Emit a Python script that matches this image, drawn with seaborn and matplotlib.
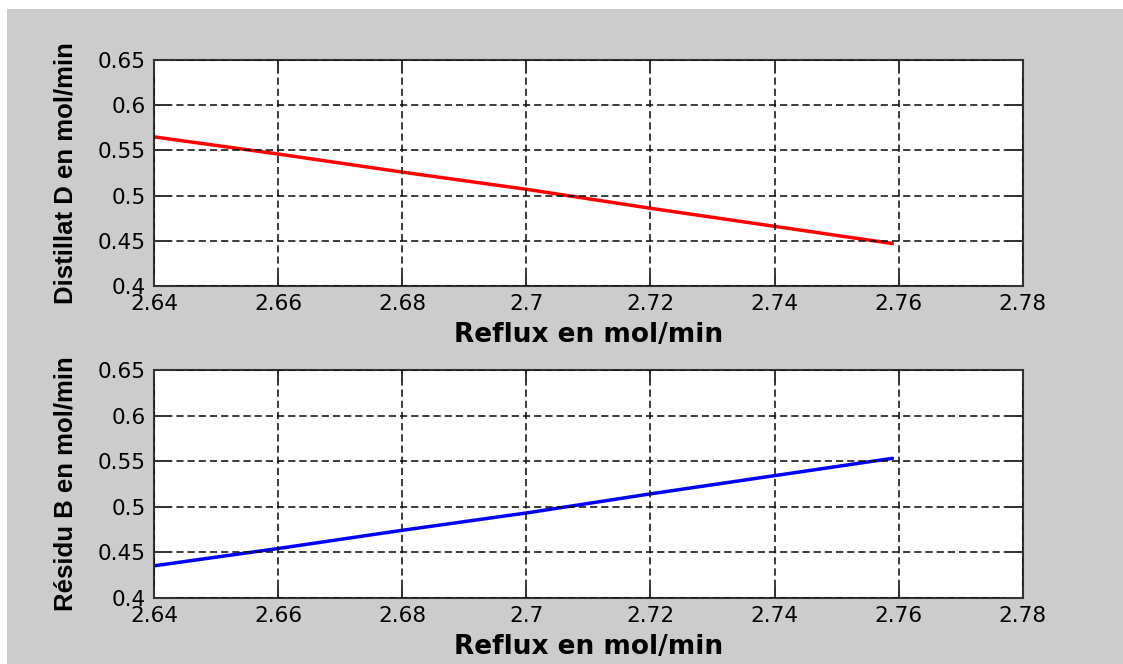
import matplotlib
matplotlib.use("Agg")
import matplotlib.pyplot as plt
from matplotlib import font_manager
from matplotlib.patches import Rectangle
import pandas as pd
import seaborn as sns

# Reflux flow (mol/min) and the resulting distillate / bottoms flows (mol/min)
reflux = [2.640, 2.660, 2.680, 2.700, 2.720, 2.740, 2.759]
distillat_D = [0.565, 0.546, 0.526, 0.507, 0.486, 0.466, 0.447]
residu_B = [0.435, 0.454, 0.474, 0.493, 0.514, 0.534, 0.553]

x_ticks = [2.64, 2.66, 2.68, 2.70, 2.72, 2.74, 2.76, 2.78]
x_tick_labels = ["2.64", "2.66", "2.68", "2.7", "2.72", "2.74", "2.76", "2.78"]
y_ticks = [0.40, 0.45, 0.50, 0.55, 0.60, 0.65]
y_tick_labels = ["0.4", "0.45", "0.5", "0.55", "0.6", "0.65"]

x_label = "Reflux en mol/min"
y_label_top = "Distillat D en mol/min"
y_label_bottom = "Résidu B en mol/min"

df = pd.DataFrame({"reflux": reflux, "D": distillat_D, "B": residu_B})

sns.set_theme(style="white")
plt.rcParams["font.family"] = ["DejaVu Sans"]

# narrow bold face for the vertical labels when available
try:
    font_manager.findfont(font_manager.FontProperties(family="Liberation Sans Narrow"),
                          fallback_to_default=False)
    ylab_family, ylab_size = "Liberation Sans Narrow", 22
except Exception:
    ylab_family, ylab_size = "Liberation Sans", 18.5

W, H = 1123, 664
fig = plt.figure(figsize=(W / 100, H / 100), dpi=100)
fig.patch.set_facecolor("white")
fig.patches.append(Rectangle((7 / W, 0), 1, (H - 9) / H, transform=fig.transFigure,
                             facecolor="#cccccc", edgecolor="none", zorder=-10))

ax_top = fig.add_axes([154 / W, (H - 286) / H, 868.7 / W, 226 / H])
ax_bot = fig.add_axes([154 / W, (H - 597.7) / H, 868.7 / W, 227.7 / H])

sns.lineplot(data=df, x="reflux", y="D", ax=ax_top, color="#ff0000", linewidth=2.5)
sns.lineplot(data=df, x="reflux", y="B", ax=ax_bot, color="#0000ff", linewidth=2.5)

for ax, ylab in [(ax_top, y_label_top), (ax_bot, y_label_bottom)]:
    ax.set_facecolor("white")
    ax.set_xlim(2.64, 2.78)
    ax.set_ylim(0.40, 0.65)
    ax.set_xticks(x_ticks)
    ax.set_xticklabels(x_tick_labels, fontsize=15.5)
    ax.set_yticks(y_ticks)
    ax.set_yticklabels(y_tick_labels, fontsize=15.5)
    ax.grid(True, color="#111111", linestyle=(0, (4.5, 2.5)), linewidth=1.15)
    ax.set_axisbelow(False)
    for s in ax.spines.values():
        s.set_color("#333333")
        s.set_linewidth(1.5)
    ax.tick_params(axis="x", direction="in", top=True, bottom=True, length=9,
                   width=1.4, color="#333333", pad=6, labelcolor="#000000")
    ax.tick_params(axis="y", direction="in", left=True, right=True, length=12,
                   width=1.4, color="#333333", pad=6, labelcolor="#000000")
    ax.set_xlabel(x_label, fontsize=19, fontweight="bold", color="black")
    ax.set_ylabel(ylab, fontsize=ylab_size, fontweight="bold", family=ylab_family,
                  color="black")
    ax.xaxis.set_label_coords(0.5, -0.158)
    ax.yaxis.set_label_coords(-0.088, 0.5)

fig.savefig("out.png", dpi=100, facecolor=fig.get_facecolor())
